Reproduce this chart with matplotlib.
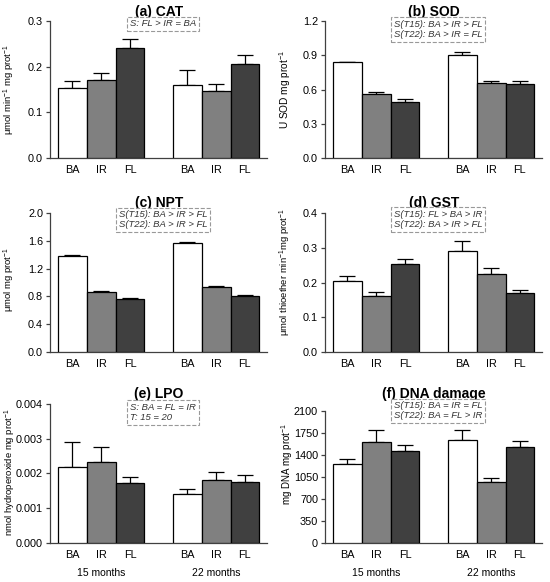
import numpy as np
import matplotlib
matplotlib.use('Agg')
import matplotlib.pyplot as plt
import matplotlib.transforms as mtransforms

plt.rcParams['font.family'] = ['Liberation Sans', 'DejaVu Sans']
plt.rcParams['mathtext.fontset'] = 'custom'
plt.rcParams['mathtext.rm'] = 'Liberation Sans'
plt.rcParams['mathtext.it'] = 'Liberation Sans:italic'
plt.rcParams['mathtext.bf'] = 'Liberation Sans:bold'

groups = ['BA', 'IR', 'FL']
ages = ['15 months', '22 months']

# means: [15 months BA, IR, FL, 22 months BA, IR, FL], tops = mean + error
cat_mean = [0.154, 0.172, 0.241, 0.160, 0.147, 0.207]
cat_top = [0.169, 0.187, 0.261, 0.194, 0.163, 0.227]
sod_mean = [0.840, 0.561, 0.494, 0.901, 0.660, 0.648]
sod_top = [0.846, 0.581, 0.517, 0.927, 0.677, 0.677]
npt_mean = [1.376, 0.870, 0.765, 1.568, 0.940, 0.810]
npt_top = [1.395, 0.880, 0.775, 1.590, 0.950, 0.822]
gst_mean = [0.205, 0.161, 0.252, 0.292, 0.226, 0.169]
gst_top = [0.220, 0.173, 0.269, 0.319, 0.242, 0.180]
lpo_mean = [0.00218, 0.00234, 0.00172, 0.00141, 0.00182, 0.00176]
lpo_top = [0.00291, 0.00276, 0.00191, 0.00154, 0.00205, 0.00197]
dna_mean = [1257, 1607, 1464, 1639, 976, 1527]
dna_top = [1331, 1803, 1554, 1803, 1034, 1617]

panels = [
    ('(a) CAT', r'μmol min$^{-1}$ mg prot$^{-1}$', cat_mean, cat_top,
     np.arange(0, 0.31, 0.1), '%.1f', 'S: FL > IR = BA'),
    ('(b) SOD', r'U SOD mg prot$^{-1}$', sod_mean, sod_top,
     np.arange(0, 1.21, 0.3), '%.1f', 'S(T15): BA > IR > FL\nS(T22): BA > IR = FL'),
    ('(c) NPT', r'μmol mg prot$^{-1}$', npt_mean, npt_top,
     np.arange(0, 2.01, 0.4), '%.1f', 'S(T15): BA > IR > FL\nS(T22): BA > IR > FL'),
    ('(d) GST', r'μmol thioether min$^{-1}$mg prot$^{-1}$', gst_mean, gst_top,
     np.arange(0, 0.41, 0.1), '%.1f', 'S(T15): FL > BA > IR\nS(T22): BA > IR > FL'),
    ('(e) LPO', r'nmol hydroperoxide mg prot$^{-1}$', lpo_mean, lpo_top,
     np.arange(0, 0.00401, 0.001), '%.3f', 'S: BA = FL = IR\nT: 15 = 20'),
    ('(f) DNA damage', r'mg DNA mg prot$^{-1}$', dna_mean, dna_top,
     np.arange(0, 2101, 350), '%d', 'S(T15): BA = IR = FL\nS(T22): BA = FL > IR'),
]

colors = ['white', '#808080', '#404040']
xpos = np.array([0, 1, 2, 4, 5, 6])

# axes boxes in figure fractions
boxes = [
    [0.091, 0.7285, 0.395, 0.235],
    [0.591, 0.7285, 0.395, 0.235],
    [0.091, 0.395, 0.395, 0.239],
    [0.591, 0.395, 0.395, 0.239],
    [0.091, 0.067, 0.395, 0.239],
    [0.591, 0.067, 0.395, 0.227],
]
label_xy = [(-0.15, 0.50), (-0.147, 0.50), (-0.15, 0.525),
            (-0.147, 0.575), (-0.147, 0.51), (-0.14, 0.60)]
label_size = [6.8, 7.3, 6.8, 6.8, 6.8, 7.0]
note_y = [0.98, 0.94, 0.95, 0.953, 0.94, 1.0]
title_pad = [4, 4, 4, 4, 4, 9]

fig = plt.figure(figsize=(5.5, 5.82), dpi=100)

for i, (title, ylab, mean, top, yt, fmt, note) in enumerate(panels):
    ax = fig.add_axes(boxes[i])
    mean = np.array(mean)
    err = np.array(top) - mean
    ax.bar(xpos, mean, width=1.0, color=colors * 2, edgecolor='black',
           linewidth=0.9, zorder=3)
    ax.errorbar(xpos, mean, yerr=[np.zeros(6), err], fmt='none', ecolor='black',
                elinewidth=0.9, capsize=5.5, capthick=0.9, zorder=2)
    ax.set_xlim(-0.78, 6.78)
    ax.set_ylim(0, yt[-1])
    ax.set_yticks(yt)
    ax.set_yticklabels([fmt % v for v in yt])
    ax.set_xticks(xpos)
    ax.set_xticklabels(groups * 2)
    ax.tick_params(axis='x', length=0, pad=5, labelsize=7.8)
    ax.tick_params(axis='y', length=3, width=0.9, labelsize=7.8, pad=2,
                   color='#404040')
    for s in ['top', 'right']:
        ax.spines[s].set_visible(False)
    for s in ['left', 'bottom']:
        ax.spines[s].set_linewidth(0.9)
        ax.spines[s].set_color('#404040')
    ax.set_ylabel(ylab, fontsize=label_size[i])
    ax.yaxis.set_label_coords(*label_xy[i])
    ax.set_title(title, fontsize=10, fontweight='bold', pad=title_pad[i])
    ax.text(0.52, note_y[i], note, transform=ax.transAxes, ha='center', va='center',
            fontsize=6.8, style='italic', color='#333333', multialignment='left',
            linespacing=1.15, zorder=5,
            bbox=dict(boxstyle='square,pad=0.3', fc='white', ec='#999999',
                      ls='--', lw=0.8))
    if i >= 4:
        trans = mtransforms.blended_transform_factory(ax.transData, fig.transFigure)
        for g, age in enumerate(ages):
            ax.text(xpos[g * 3 + 1], 1 - 573 / 582, age, transform=trans,
                    ha='center', va='center', fontsize=7.5)

fig.savefig('out.png', dpi=100)
